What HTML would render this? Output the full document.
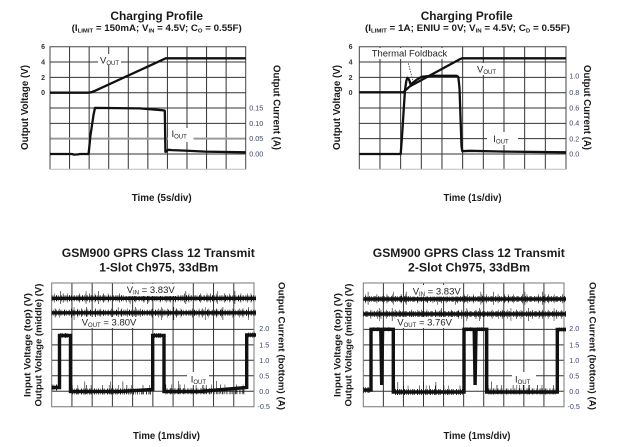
<!DOCTYPE html>
<html><head><meta charset="utf-8"><style>
html,body{margin:0;padding:0;background:#fff;}
svg{display:block;font-family:"Liberation Sans",Arial,sans-serif;}
.g{stroke:#333;stroke-width:1;fill:none}
.bd{stroke:#444;stroke-width:1;fill:none}
.tr{stroke:#111;stroke-width:2.3;fill:none;stroke-linejoin:round}
.b{stroke:#111;stroke-width:3.4;fill:none}
.n1{stroke:#111;stroke-width:6;fill:none;stroke-dasharray:0.8 1.2 0.5 1.8 1 0.9 0.6 2.2 0.9 1.5 0.5 1.1}
.n2{stroke:#111;stroke-width:9;fill:none;stroke-dasharray:0.6 5 0.5 8 0.7 4 0.5 11 0.6 6 0.5 3}
.n3{stroke:#111;stroke-width:13;fill:none;stroke-dasharray:0.5 17 0.6 25 0.5 12 0.6 31}
.t{font-weight:bold;fill:#1a1a1a}
.tk{font-size:7.2px;fill:#3b4660}
.tl{font-size:7px;font-weight:bold;fill:#333}
.lb{font-size:9.5px;fill:#222}
</style></head><body>
<svg width="620" height="447" viewBox="0 0 620 447" xmlns="http://www.w3.org/2000/svg">
<rect width="620" height="447" fill="#fff"/>

<!-- ============ TOP LEFT ============ -->
<text class="t" x="156.7" y="20" font-size="12" text-anchor="middle" textLength="92.7" lengthAdjust="spacingAndGlyphs">Charging Profile</text>
<text class="t" x="156.7" y="31" font-size="9" text-anchor="middle" textLength="170" lengthAdjust="spacingAndGlyphs">(I<tspan font-size="5.5" dy="1.5">LIMIT</tspan><tspan dy="-1.5"> = 150mA; V</tspan><tspan font-size="5.5" dy="1.5">IN</tspan><tspan dy="-1.5"> = 4.5V; C</tspan><tspan font-size="5.5" dy="1.5">O</tspan><tspan dy="-1.5"> = 0.55F)</tspan></text>

<path class="g" d="M69.57 46.7V169.3M89.14 46.7V169.3M108.71 46.7V169.3M128.28 46.7V169.3M147.85 46.7V169.3M167.42 46.7V169.3M186.99 46.7V169.3M206.56 46.7V169.3M226.13 46.7V169.3M50 62.03H245.7M50 77.36H245.7M50 92.69H245.7M50 108.02H245.7M50 123.35H245.7M50 154.01H245.7"/>
<path d="M50 138.68H245.7" stroke="#9a9a9a" stroke-width="2"/>
<path class="bd" d="M50 169.3V46.7H245.7V169.3"/>
<path d="M50 169.3H245.7" stroke="#bbb" stroke-width="1"/>

<path class="tr" d="M50 92.7H88Q91.5 92.6 95 90.8L165.7 58.3H245.7"/>
<path class="tr" d="M50 154H72L74 154.6L78 154.4L80 154H88.6L89.4 146L90.3 136.5L91.8 126.5L93.5 115L95 107.9L140 108.4L162 110.2L164.8 110.6L165.4 151.8L166.6 151.4L168 149.8L172 150.1L185 150.6L205 151.6L245.7 152.3"/>

<rect x="98" y="54" width="23" height="11" fill="#fff"/>
<text class="lb" x="100" y="63.3">V<tspan font-size="6" dy="1.5">OUT</tspan></text>
<rect x="168" y="128" width="25.5" height="14" fill="#fff"/>
<text class="lb" x="171.5" y="137">I<tspan font-size="6" dy="1.5">OUT</tspan></text>

<text class="tl" x="45" y="49.2" text-anchor="end">6</text>
<text class="tl" x="45" y="64.5" text-anchor="end">4</text>
<text class="tl" x="45" y="79.9" text-anchor="end">2</text>
<text class="tl" x="45" y="95.2" text-anchor="end">0</text>
<text class="tk" x="249.3" y="110.5">0.15</text>
<text class="tk" x="249.3" y="125.9">0.10</text>
<text class="tk" x="249.3" y="141.2">0.05</text>
<text class="tk" x="249.3" y="156.5">0.00</text>

<text class="t" font-size="10" text-anchor="middle" textLength="85" lengthAdjust="spacingAndGlyphs" transform="translate(28,107.5) rotate(-90)">Output Voltage (V)</text>
<text class="t" font-size="10" text-anchor="middle" textLength="85" lengthAdjust="spacingAndGlyphs" transform="translate(273.5,107.5) rotate(90)">Output Current (A)</text>
<text class="t" x="161.7" y="201" font-size="10" text-anchor="middle" textLength="60" lengthAdjust="spacingAndGlyphs">Time (5s/div)</text>

<!-- ============ TOP RIGHT ============ -->
<text class="t" x="466.7" y="20" font-size="12" text-anchor="middle" textLength="92" lengthAdjust="spacingAndGlyphs">Charging Profile</text>
<text class="t" x="467.5" y="31" font-size="9" text-anchor="middle" textLength="205" lengthAdjust="spacingAndGlyphs">(I<tspan font-size="5.5" dy="1.5">LIMIT</tspan><tspan dy="-1.5"> = 1A; ENIU = 0V; V</tspan><tspan font-size="5.5" dy="1.5">IN</tspan><tspan dy="-1.5"> = 4.5V; C</tspan><tspan font-size="5.5" dy="1.5">D</tspan><tspan dy="-1.5"> = 0.55F)</tspan></text>

<path class="g" d="M379.97 46.7V169.3M400.64 46.7V169.3M421.31 46.7V169.3M441.98 46.7V169.3M462.65 46.7V169.3M483.32 46.7V169.3M503.99 46.7V169.3M524.66 46.7V169.3M545.33 46.7V169.3M359.3 62.03H566M359.3 77.36H566M359.3 92.69H566M359.3 108.02H566M359.3 123.35H566M359.3 138.68H566M359.3 154.01H566"/>
<path class="bd" d="M359.3 169.3V46.7H566V169.3"/>
<path d="M359.3 169.3H566" stroke="#bbb" stroke-width="1"/>

<rect x="369" y="48" width="81" height="11" fill="#fff"/>
<rect x="474" y="63" width="26" height="12" fill="#fff"/>
<rect x="487" y="132" width="31" height="13" fill="#fff"/>

<path class="tr" d="M359.3 92.3H403.3L410 86.2L460.5 58.9L462 58.3H566"/>
<path class="tr" d="M359.3 154H400.7L401.6 142L402.5 129L404 105L405 90L406.3 81L407.3 77.8L408.4 78.6L409.4 80.5L410.7 85L412 83.5L413.3 82.3L417 79.5L421.7 76.8L431.7 75.8L456.7 75.8L458.3 76.8L459.5 88L460.6 120L461.5 146L462.3 151.2L470 150.8L500 151.5L566 152.3"/>
<path d="M408.3 63.3L412.7 80" stroke="#333" stroke-width="0.8" stroke-dasharray="1.5 1.2" fill="none"/>

<text class="lb" x="371.7" y="56.5" textLength="75.6" lengthAdjust="spacingAndGlyphs">Thermal Foldback</text>
<text class="lb" x="477" y="72.5">V<tspan font-size="6" dy="1.5">OUT</tspan></text>
<text class="lb" x="493.3" y="142">I<tspan font-size="6" dy="1.5">OUT</tspan></text>

<text class="tl" x="352.5" y="49.2" text-anchor="end">6</text>
<text class="tl" x="352.5" y="64.5" text-anchor="end">4</text>
<text class="tl" x="352.5" y="79.9" text-anchor="end">2</text>
<text class="tl" x="352.5" y="95.2" text-anchor="end">0</text>
<text class="tk" x="569.3" y="78.6">1.0</text>
<text class="tk" x="569.3" y="94.9">0.8</text>
<text class="tk" x="569.3" y="110.3">0.6</text>
<text class="tk" x="569.3" y="125.6">0.4</text>
<text class="tk" x="569.3" y="141.3">0.2</text>
<text class="tk" x="569.3" y="156.6">0.0</text>

<text class="t" font-size="10" text-anchor="middle" textLength="85" lengthAdjust="spacingAndGlyphs" transform="translate(340,107.5) rotate(-90)">Output Voltage (V)</text>
<text class="t" font-size="10" text-anchor="middle" textLength="85" lengthAdjust="spacingAndGlyphs" transform="translate(584,107.5) rotate(90)">Output Current (A)</text>
<text class="t" x="472.5" y="201" font-size="10" text-anchor="middle" textLength="58" lengthAdjust="spacingAndGlyphs">Time (1s/div)</text>

<!-- ============ BOTTOM LEFT ============ -->
<text class="t" x="158.3" y="257" font-size="12" text-anchor="middle" textLength="193" lengthAdjust="spacingAndGlyphs">GSM900 GPRS Class 12 Transmit</text>
<text class="t" x="158.8" y="271.3" font-size="12" text-anchor="middle" textLength="119" lengthAdjust="spacingAndGlyphs">1-Slot Ch975, 33dBm</text>

<path class="g" d="M71.93 283V406.7M92.16 283V406.7M112.39 283V406.7M132.62 283V406.7M152.85 283V406.7M173.08 283V406.7M193.31 283V406.7M213.54 283V406.7M233.77 283V406.7M51.7 298.46H254M51.7 313.93H254M51.7 329.39H254M51.7 344.85H254M51.7 360.31H254M51.7 375.78H254M51.7 391.24H254"/>
<path d="M51.7 283H254V406.7H51.7Z" stroke="#777" stroke-width="1" fill="none"/>

<!-- VIN / VOUT -->
<path class="b" d="M51.7 298.3H256"/>
<path class="n1" d="M51.7 298.3H256"/>
<path class="n2" d="M51.7 298H256" style="stroke-dashoffset:3"/>
<path class="n3" d="M51.7 297.5H256" style="stroke-dashoffset:9"/>
<path class="b" d="M51.7 312.8H256"/>
<path class="n1" d="M51.7 312.8H256" style="stroke-dashoffset:5"/>
<path class="n2" d="M51.7 313H256" style="stroke-dashoffset:11"/>
<path class="n3" d="M51.7 313.5H256" style="stroke-dashoffset:21"/>
<!-- IOUT -->
<path class="b" d="M51.7 387.5H59.5V335.5H70.5V391.5H120L152.7 389.5V335.5H164V391.5H200L246.7 387.5V335H256"/>
<path class="n1" d="M51.7 387.5H58M72 391.5H151.5M165.5 391.2H245.5"/>
<path class="n1" style="stroke-width:5" d="M60.5 335.5H69.5M154 335.5H163M248 335H256"/>
<path class="n2" d="M72 389.5H151M165.5 389H245"/>
<path class="n3" d="M72 388H151M165.5 387.5H245" style="stroke-dashoffset:5"/>

<rect x="125" y="284" width="51" height="12" fill="#fff"/>
<rect x="80" y="317" width="62" height="11" fill="#fff"/>
<rect x="187" y="372" width="22" height="13" fill="#fff"/>
<text class="lb" x="126.7" y="293">V<tspan font-size="6" dy="1.5">IN</tspan><tspan dy="-1.5"> = 3.83V</tspan></text>
<text class="lb" x="81.7" y="325.5">V<tspan font-size="6" dy="1.5">OUT</tspan><tspan dy="-1.5"> = 3.80V</tspan></text>
<text class="lb" x="190.7" y="382.5">I<tspan font-size="6" dy="1.5">OUT</tspan></text>

<text class="tk" x="259.3" y="331">2.0</text>
<text class="tk" x="259.3" y="347.4">1.5</text>
<text class="tk" x="259.3" y="362.9">1.0</text>
<text class="tk" x="259.3" y="378.3">0.5</text>
<text class="tk" x="259.3" y="393.8">0.0</text>
<text class="tk" x="257.5" y="409.2">-0.5</text>

<text class="t" font-size="9.6" text-anchor="middle" textLength="104" lengthAdjust="spacingAndGlyphs" transform="translate(30.5,345) rotate(-90)">Input Voltage (top) (V)</text>
<text class="t" font-size="9.6" text-anchor="middle" textLength="123" lengthAdjust="spacingAndGlyphs" transform="translate(41.5,345) rotate(-90)">Output Voltage (middle) (V)</text>
<text class="t" font-size="9.6" text-anchor="middle" textLength="128" lengthAdjust="spacingAndGlyphs" transform="translate(278.5,346) rotate(90)">Output Current (bottom) (A)</text>
<text class="t" x="166.5" y="439" font-size="10" text-anchor="middle" textLength="67" lengthAdjust="spacingAndGlyphs">Time (1ms/div)</text>

<!-- ============ BOTTOM RIGHT ============ -->
<text class="t" x="468.8" y="257" font-size="12" text-anchor="middle" textLength="192" lengthAdjust="spacingAndGlyphs">GSM900 GPRS Class 12 Transmit</text>
<text class="t" x="469" y="271.3" font-size="12" text-anchor="middle" textLength="122" lengthAdjust="spacingAndGlyphs">2-Slot Ch975, 33dBm</text>

<path class="g" d="M383.37 283V406.7M403.44 283V406.7M423.51 283V406.7M443.58 283V406.7M463.65 283V406.7M483.72 283V406.7M503.79 283V406.7M523.86 283V406.7M543.93 283V406.7M363.3 298.46H564M363.3 313.93H564M363.3 329.39H564M363.3 344.85H564M363.3 360.31H564M363.3 375.78H564M363.3 391.24H564"/>
<path d="M363.3 283H564V406.7H363.3Z" stroke="#777" stroke-width="1" fill="none"/>

<path class="b" d="M363.3 299H566"/>
<path class="n1" d="M363.3 299H566" style="stroke-dashoffset:7"/>
<path class="n2" d="M363.3 298.7H566" style="stroke-dashoffset:17"/>
<path class="n3" d="M363.3 298.3H566" style="stroke-dashoffset:13"/>
<path class="b" d="M363.3 314H566"/>
<path class="n1" d="M363.3 314H566" style="stroke-dashoffset:2"/>
<path class="n2" d="M363.3 314.3H566" style="stroke-dashoffset:23"/>
<path class="n3" d="M363.3 314.5H566" style="stroke-dashoffset:27"/>

<path class="b" d="M363.3 390H371V329.3H380.8L381.7 385L382.6 329.3H393.3V392H464V329.3H474.2L475.1 385L476 329.3H486.7V392H557.3V329.5H566"/>
<path class="n1" d="M363.3 390H370M395 392H463M488.5 391.5H556.5"/>
<path class="n1" style="stroke-width:4" d="M372.5 329.3H380M383.5 329.3H392.5M465.5 329.3H473.5M477 329.3H486M559 329.5H566"/>
<path class="n2" d="M395 390H463M488.5 389.5H556.5" style="stroke-dashoffset:6"/>
<path class="n3" d="M395 388.5H463M488.5 388H556.5" style="stroke-dashoffset:15"/>

<rect x="411" y="285" width="49" height="11.5" fill="#fff"/>
<rect x="395" y="317" width="57" height="11" fill="#fff"/>
<rect x="512" y="372" width="24" height="13" fill="#fff"/>
<text class="lb" x="412.7" y="294.5">V<tspan font-size="6" dy="1.5">IN</tspan><tspan dy="-1.5"> = 3.83V</tspan></text>
<text class="lb" x="397.3" y="325.3">V<tspan font-size="6" dy="1.5">OUT</tspan><tspan dy="-1.5"> = 3.76V</tspan></text>
<text class="lb" x="515" y="382.5">I<tspan font-size="6" dy="1.5">OUT</tspan></text>

<text class="tk" x="569.3" y="331">2.0</text>
<text class="tk" x="569.3" y="347.4">1.5</text>
<text class="tk" x="569.3" y="362.9">1.0</text>
<text class="tk" x="569.3" y="378.3">0.5</text>
<text class="tk" x="569.3" y="393.8">0.0</text>
<text class="tk" x="567.5" y="409.2">-0.5</text>

<text class="t" font-size="9.6" text-anchor="middle" textLength="104" lengthAdjust="spacingAndGlyphs" transform="translate(340.5,345) rotate(-90)">Input Voltage (top) (V)</text>
<text class="t" font-size="9.6" text-anchor="middle" textLength="123" lengthAdjust="spacingAndGlyphs" transform="translate(351.3,345) rotate(-90)">Output Voltage (middle) (V)</text>
<text class="t" font-size="9.6" text-anchor="middle" textLength="128" lengthAdjust="spacingAndGlyphs" transform="translate(589.5,346) rotate(90)">Output Current (bottom) (A)</text>
<text class="t" x="477" y="439" font-size="10" text-anchor="middle" textLength="67" lengthAdjust="spacingAndGlyphs">Time (1ms/div)</text>

</svg>
</body></html>
